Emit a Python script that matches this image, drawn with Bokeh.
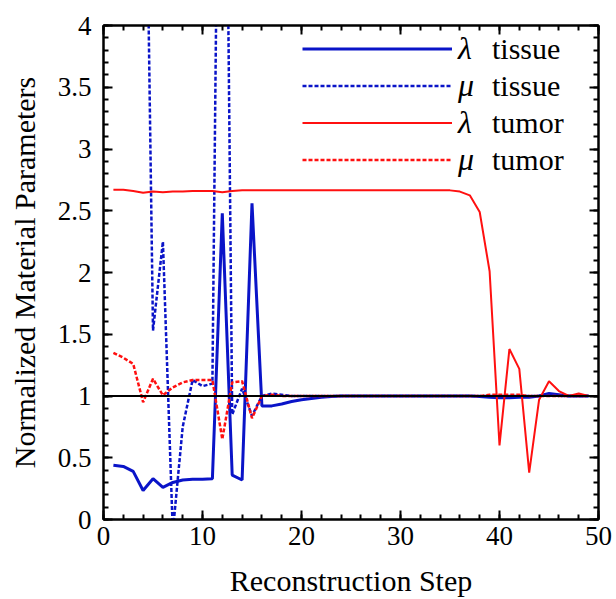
from bokeh.plotting import figure
from bokeh.models import (Legend, LegendItem, LinearAxis, SingleIntervalTicker,
                          Span, Range1d, CustomJSTickFormatter)
from bokeh.embed import file_html
from bokeh.resources import INLINE

steps = list(range(1, 50))

lambda_tissue = [0.44, 0.43, 0.39, 0.235, 0.33, 0.26, 0.30, 0.32, 0.325, 0.325,
                 0.33, 2.48, 0.36, 0.32, 2.56, 0.92, 0.92, 0.935, 0.955, 0.97,
                 0.98, 0.99, 0.995, 1.0, 1.0, 1.0, 1.0, 1.0, 1.0, 1.0,
                 1.0, 1.0, 1.0, 1.0, 1.0, 1.0, 1.0, 0.995, 0.99, 0.985,
                 0.985, 0.99, 0.99, 1.0, 1.02, 1.01, 1.0, 1.0, 1.0]

mu_tissue = [6.0, 6.5, 7.0, 7.2, 1.53, 2.25, -0.1, 0.75, 1.13, 1.08,
             1.10, 9.0, 0.85, 1.06, 0.84, 1.0, 1.02, 1.01, 1.0, 1.0,
             1.0, 1.0, 1.0, 1.0, 1.0, 1.0, 1.0, 1.0, 1.0, 1.0,
             1.0, 1.0, 1.0, 1.0, 1.0, 1.0, 1.0, 1.0, 1.0, 1.0,
             1.0, 1.0, 1.0, 1.0, 1.01, 1.0, 1.0, 1.0, 1.0]

lambda_tumor = [2.67, 2.67, 2.66, 2.645, 2.655, 2.65, 2.655, 2.655, 2.66, 2.66,
                2.66, 2.65, 2.66, 2.665, 2.665, 2.665, 2.665, 2.665, 2.665, 2.665,
                2.665, 2.665, 2.665, 2.665, 2.665, 2.665, 2.665, 2.665, 2.665, 2.665,
                2.665, 2.665, 2.665, 2.665, 2.665, 2.655, 2.625, 2.49, 2.01, 0.60,
                1.38, 1.22, 0.38, 0.97, 1.12, 1.04, 1.0, 1.02, 1.0]

mu_tumor = [1.35, 1.31, 1.26, 0.95, 1.14, 1.005, 1.07, 1.11, 1.13, 1.13,
            1.13, 0.65, 1.11, 1.12, 0.82, 1.0, 1.01, 1.0, 1.0, 1.0,
            1.0, 1.0, 1.0, 1.0, 1.0, 1.0, 1.0, 1.0, 1.0, 1.0,
            1.0, 1.0, 1.0, 1.0, 1.0, 1.0, 1.0, 1.0, 1.01, 1.01,
            1.01, 1.01, 1.0, 1.0, 1.0, 1.0, 1.0, 1.0, 1.0]

series_symbols = ["λ", "μ", "λ", "μ"]
series_names = ["tissue", "tissue", "tumor", "tumor"]

BLUE = "#0a14c8"
RED = "#ff1010"
FONT = "Liberation Serif"

p = figure(width=616, height=599, output_backend="svg", toolbar_location=None,
           x_range=Range1d(0, 50), y_range=Range1d(0, 4),
           min_border_left=103, min_border_right=18, min_border_top=25,
           min_border_bottom=79)
p.grid.visible = False
p.outline_line_color = "black"
p.outline_line_width = 2
p.background_fill_color = "white"
p.border_fill_color = "white"

p.add_layout(Span(location=1, dimension="width", line_color="black", line_width=2))

r1 = p.line(steps, lambda_tissue, line_color=BLUE, line_width=3)
r2 = p.line(steps, mu_tissue, line_color=BLUE, line_width=2.5, line_dash="4 2")
r3 = p.line(steps, lambda_tumor, line_color=RED, line_width=2)
r4 = p.line(steps, mu_tumor, line_color=RED, line_width=2.5, line_dash="4 2")
renderers = [r1, r2, r3, r4]

fmt = CustomJSTickFormatter(code="return String(Number(tick.toFixed(2)));")
blank = CustomJSTickFormatter(code="return '';")

def style(ax, labels=True):
    ax.axis_line_width = 2
    ax.axis_line_color = "black"
    ax.major_tick_line_width = 2
    ax.minor_tick_line_width = 2
    ax.major_tick_in = 9
    ax.major_tick_out = 0
    ax.minor_tick_in = 5
    ax.minor_tick_out = 0
    ax.major_label_text_font = FONT
    ax.major_label_text_font_size = "27px"
    ax.major_label_text_color = "black"
    if labels:
        ax.axis_label_text_font = FONT
        ax.axis_label_text_font_size = "30px"
        ax.axis_label_text_font_style = "normal"
        ax.axis_label_text_color = "black"
    else:
        ax.formatter = blank
        ax.major_label_standoff = 0

p.xaxis.ticker = SingleIntervalTicker(interval=10, num_minor_ticks=5)
p.yaxis.ticker = SingleIntervalTicker(interval=0.5, num_minor_ticks=5)
p.xaxis.formatter = fmt
p.yaxis.formatter = fmt
p.xaxis.axis_label = "Reconstruction Step"
p.yaxis.axis_label = "Normalized Material Parameters"
for ax in list(p.xaxis) + list(p.yaxis):
    style(ax)
p.xaxis.major_label_standoff = 7
p.yaxis.major_label_standoff = 12
p.xaxis.axis_label_standoff = 16
p.yaxis.axis_label_standoff = 14

top = LinearAxis(ticker=SingleIntervalTicker(interval=10, num_minor_ticks=5))
right = LinearAxis(ticker=SingleIntervalTicker(interval=0.5, num_minor_ticks=5))
style(top, labels=False)
style(right, labels=False)
p.add_layout(top, "above")
p.add_layout(right, "right")

def make_legend(labels, loc, glyph_width, standoff, style_):
    lg = Legend(items=[LegendItem(label=t, renderers=[r]) for t, r in zip(labels, renderers)],
                location=loc)
    lg.label_text_font = FONT
    lg.label_text_font_size = "32px" if style_ == "italic" else "30px"
    lg.label_text_font_style = style_
    lg.label_text_color = "black"
    lg.glyph_width = glyph_width
    lg.glyph_height = 37
    lg.label_height = 37
    lg.spacing = 0
    lg.padding = 0
    lg.margin = 0
    lg.label_standoff = standoff
    lg.border_line_alpha = 0
    lg.background_fill_alpha = 0
    return lg

p.add_layout(make_legend(series_symbols, (199, 341), 150, 6, "italic"), "center")
p.add_layout(make_legend(series_names, (389, 341), 0, 0, "normal"), "center")

open("out.html", "w").write(file_html(p, INLINE))
